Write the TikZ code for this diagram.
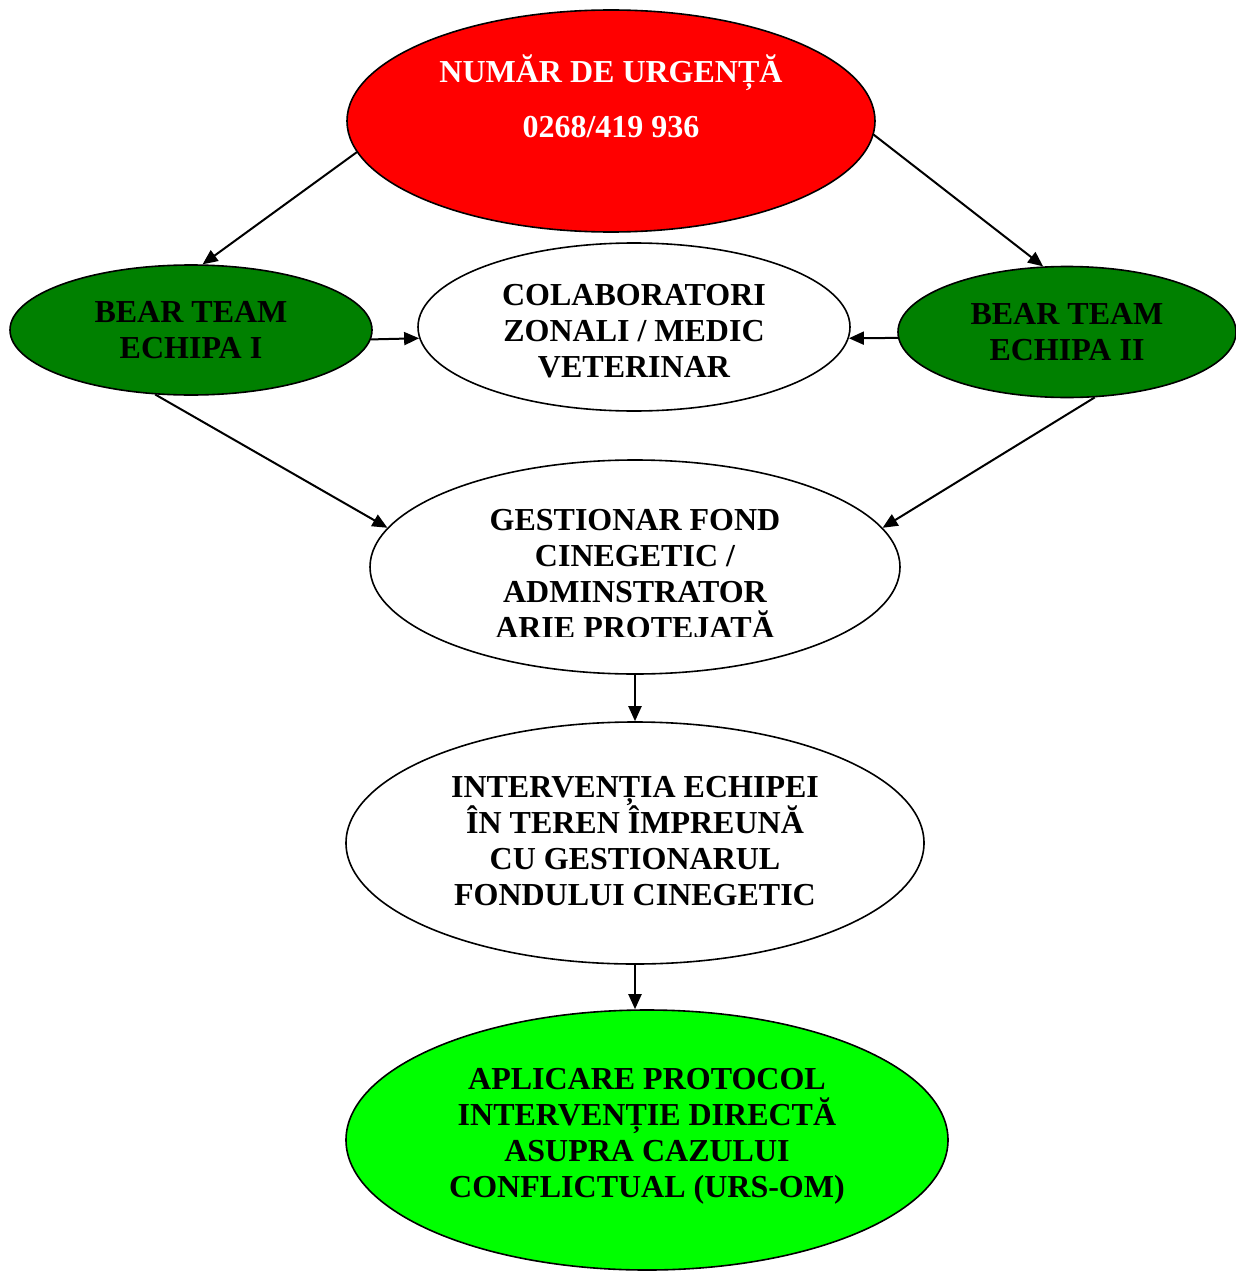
\documentclass[tikz,border=0pt]{standalone}
\usepackage{fontspec}
\setmainfont{Liberation Serif}
\usepackage{tikz}
\usetikzlibrary{
  shapes.geometric,
  arrows.meta
}
\definecolor{urgred}{HTML}{FF0000}
\definecolor{teamgreen}{HTML}{008000}
\definecolor{actgreen}{HTML}{00FF00}
\tikzset{
  >={Triangle[length=15pt, width=13pt]},
  every node/.style={font=\fontsize{32}{36}\selectfont\bfseries, align=center},
  link/.style={->, line width=2pt},
  oval/.style={ellipse, draw, line width=1.6pt, inner sep=0pt, fill=white},
  team/.style={oval, fill=teamgreen, minimum height=130pt}
}

\begin{document}
\begin{tikzpicture}[x=1pt, y=-1pt]
    \useasboundingbox (0,0) rectangle (1236,1271);

    \node[oval, fill=urgred, minimum width=528pt, minimum height=222pt] (urgenta) at (611,121) {};
    \node[white] (urgentatxt) at ([yshift=25pt]urgenta.center) {NUMĂR DE URGENȚĂ\\[19pt]0268/419 936};
    \node[team, minimum width=362pt] (bt1) at (191,330) {BEAR TEAM\\ECHIPA I};
    \node[oval, minimum width=432pt, minimum height=168pt] (colab) at (634,327) {};
    \node (colabtxt) at ([yshift=-4pt]colab.center) {COLABORATORI\\ZONALI / MEDIC\\VETERINAR};
    \node[team, minimum width=338pt, minimum height=131pt] (bt2) at (1067,332) {BEAR TEAM\\ECHIPA II};
    \node[oval, minimum width=530pt, minimum height=214pt] (gestionar) at (635,567) {};
    \begin{scope}
      \clip (360,450) rectangle (910,636);
      \node (gestionartxt) at ([yshift=-7pt]gestionar.center) {GESTIONAR FOND\\CINEGETIC /\\ADMINSTRATOR\\ARIE PROTEJATĂ};
    \end{scope}
    \node[oval, minimum width=578pt, minimum height=242pt] (interventia) at (635,843) {};
    \node (interventiatxt) at ([yshift=2pt]interventia.center) {INTERVENȚIA ECHIPEI\\ÎN TEREN ÎMPREUNĂ\\CU GESTIONARUL\\FONDULUI CINEGETIC};
    \node[oval, fill=actgreen, minimum width=602pt, minimum height=260pt] (aplicare) at (647,1140) {};
    \node (aplicaretxt) at ([yshift=4pt]aplicare.center) {APLICARE PROTOCOL\\INTERVENȚIE DIRECTĂ\\ASUPRA CAZULUI\\CONFLICTUAL (URS-OM)};

    \draw[link] (urgenta.187) -- (bt1.80);
    \draw[link] (urgenta.357) -- (bt2.110);

    \draw[link] (bt1.-3) -- (colab.183);
    \draw[link] (bt2.182) -- (colab.-3);

    \draw[link] (bt1.241) -- (gestionar.171);
    \draw[link] (bt2.293) -- (gestionar.9);

    \draw[link] (gestionar.south) -- (interventia.north);
    \draw[link] (interventia.south) -- (interventia.south |- aplicare.north);
\end{tikzpicture}
\end{document}
